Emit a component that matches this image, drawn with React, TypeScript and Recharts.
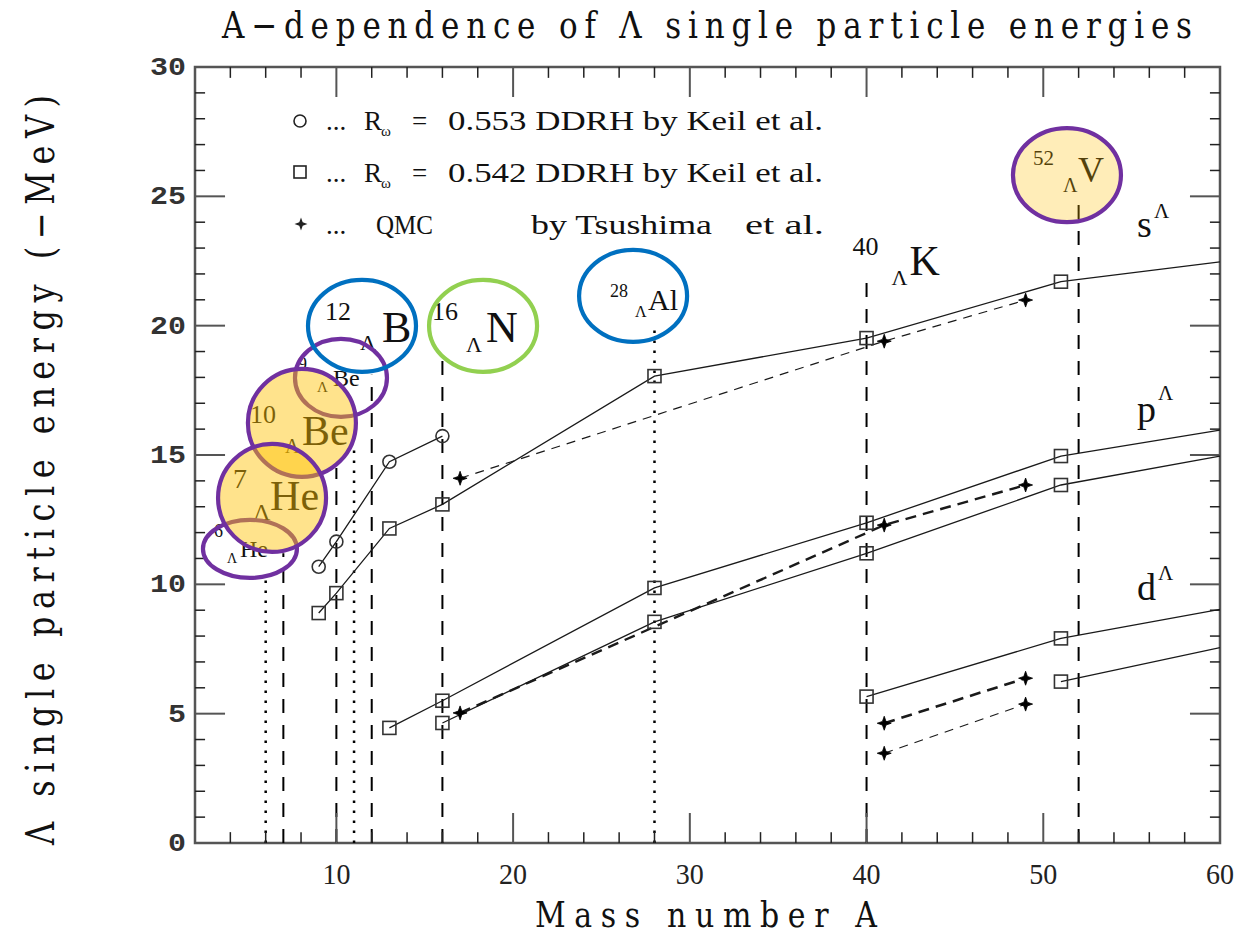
import React from 'react';
import {
  ComposedChart,
  Line,
  XAxis,
  YAxis,
  ReferenceLine,
  ReferenceArea,
  ReferenceDot,
  Customized,
} from 'recharts';

// ---------------- data ----------------
// DDRH, R_omega = 0.553 (circles) : s states
const ddrh553S = [
  { A: 9, E: 10.68 },
  { A: 10, E: 11.65 },
  { A: 13, E: 14.74 },
  { A: 16, E: 15.73 },
];
// DDRH, R_omega = 0.542 (squares)
const ddrh542S = [
  { A: 9, E: 8.89 },
  { A: 10, E: 9.66 },
  { A: 13, E: 12.16 },
  { A: 16, E: 13.09 },
  { A: 28, E: 18.05 },
  { A: 40, E: 19.52 },
  { A: 51, E: 21.7 },
  { A: 60, E: 22.47 },
];
const ddrh542P1 = [
  { A: 13, E: 4.45 },
  { A: 16, E: 5.5 },
  { A: 28, E: 9.86 },
  { A: 40, E: 12.38 },
  { A: 51, E: 14.96 },
  { A: 60, E: 15.96 },
];
const ddrh542P2 = [
  { A: 16, E: 4.64 },
  { A: 28, E: 8.55 },
  { A: 40, E: 11.2 },
  { A: 51, E: 13.84 },
  { A: 60, E: 14.96 },
];
const ddrh542D1 = [
  { A: 40, E: 5.66 },
  { A: 51, E: 7.91 },
  { A: 60, E: 9.03 },
];
const ddrh542D2 = [
  { A: 51, E: 6.24 },
  { A: 60, E: 7.55 },
];
// QMC by Tsushima et al. (stars)
const qmcS = [
  { A: 17, E: 14.1 },
  { A: 41, E: 19.4 },
  { A: 49, E: 20.99 },
];
const qmcP = [
  { A: 17, E: 5.03 },
  { A: 41, E: 12.29 },
  { A: 49, E: 13.84 },
];
const qmcD1 = [
  { A: 41, E: 4.63 },
  { A: 49, E: 6.37 },
];
const qmcD2 = [
  { A: 41, E: 3.47 },
  { A: 49, E: 5.37 },
];

// vertical guide lines at the hypernuclei mass numbers
const dashedNucleiA = [7, 10, 12, 16, 40, 52];
const dashedNucleiTop = [11.2, 14.5, 18.1, 19.05, 22.0, 24.9];
const dottedNucleiA = [6, 11, 28];
const dottedNucleiTop = [10.2, 15.3, 19.9];

// axis ticks
const xTickLabels = [10, 20, 30, 40, 50, 60];
const yTickLabels = [0, 5, 10, 15, 20, 25, 30];
const xMinorTicks = [4, 6, 8, 12, 14, 16, 18, 22, 24, 26, 28, 32, 34, 36, 38, 42, 44, 46, 48, 52, 54, 56, 58];
const xMajorTicks = [10, 20, 30, 40, 50];
const yMinorTicks = [1, 2, 3, 4, 6, 7, 8, 9, 11, 12, 13, 14, 16, 17, 18, 19, 21, 22, 23, 24, 26, 27, 28, 29];
const yMajorTicks = [5, 10, 15, 20, 25];

// hypernucleus labels (anchor in data units)
const hyperMass = ['12', '16', '28', '40', '52', '9', '10', '7', '6'];
const hyperCore = ['B', 'N', 'Al', 'K', 'V', 'Be', 'Be', 'He', 'He'];
const hyperA = [11.45, 18.3, 26.79, 40.0, 51.34, 10.26, 8.05, 6.36, 5.11];
const hyperE = [19.99, 19.99, 21.15, 22.5, 25.82, 17.98, 16.24, 13.34, 11.37];

// orbital labels
const orbitNames = ['s', 'p', 'd'];
const orbitA = [55.3, 55.3, 55.3];
const orbitE = [23.43, 16.28, 9.39];

// ---------------- layout / style (not data) ----------------
const W = 1240;
const H = 938;
const SERIF = "'Liberation Serif', 'Times New Roman', serif";
const TYPE = "'DejaVu Serif', serif";
const MONO = "'Liberation Mono', 'Courier New', monospace";
const PURPLE = '#7030A0';
const BLUE = '#0070C0';
const GREEN = '#92D050';
const ORANGE = '#FFC000';

// offsets [massX, massY, massSize, lamX, lamY, lamSize, coreX, coreY, coreSize]
const hyperLayout = [
  [-37, -6, 26, -2, 24, 22, 20, 16, 44],
  [-51, -6, 26, -17, 26, 22, 3, 16, 44],
  [-23, 1, 18, 2, 21, 16, 15, 14, 30],
  [-14, -6, 26, 25, 24, 22, 43, 14, 42],
  [-34, -10, 21, -4, 17, 20, 11, 7, 36],
  [-43, -8, 18, -24, 14, 15, -8, 8, 24],
  [-52, 0, 26, -17, 30, 20, 0, 22, 42],
  [-39, -10, 28, -19, 22, 24, -2, 12, 42],
  [-36, -12, 18, -23, 14, 14, -10, 8, 24],
];
// ellipses drawn after labels, in this order: index into hyper arrays
const ellipseOrder = [5, 8, 6, 7, 0, 1, 2, 4];
const ellipseStyle: Record<number, { rx: number; ry: number; stroke: string; fill: string; fo: number }> = {
  0: { rx: 54, ry: 46, stroke: BLUE, fill: 'none', fo: 0 },
  1: { rx: 54, ry: 46, stroke: GREEN, fill: 'none', fo: 0 },
  2: { rx: 54, ry: 46, stroke: BLUE, fill: 'none', fo: 0 },
  4: { rx: 54, ry: 47, stroke: PURPLE, fill: ORANGE, fo: 0.28 },
  5: { rx: 46, ry: 39, stroke: PURPLE, fill: 'none', fo: 0 },
  6: { rx: 54, ry: 54, stroke: PURPLE, fill: ORANGE, fo: 0.45 },
  7: { rx: 54, ry: 54, stroke: PURPLE, fill: ORANGE, fo: 0.45 },
  8: { rx: 47, ry: 29, stroke: PURPLE, fill: 'none', fo: 0 },
};
const orbitLayout = [
  [17, -19],
  [21, -22],
  [21, -20],
];

const LINE = '#1a1a1a';

const starPath = (cx: number, cy: number, r = 7, ri = 1.8) =>
  `M${cx},${cy - r} L${cx + ri},${cy - ri} L${cx + r},${cy} L${cx + ri},${cy + ri} L${cx},${cy + r} L${cx - ri},${cy + ri} L${cx - r},${cy} L${cx - ri},${cy - ri} Z`;

const EDGE = 60;

const circleDot = (p: any) => {
  const { cx, cy, payload, index } = p;
  if (payload.A >= EDGE) return <g key={`c${index}`} />;
  return <circle key={`c${index}`} cx={cx} cy={cy} r={6.5} fill="none" stroke="#333" strokeWidth={1.6} />;
};
const squareDot = (p: any) => {
  const { cx, cy, payload, index } = p;
  if (payload.A >= EDGE) return <g key={`s${index}`} />;
  return <rect key={`s${index}`} x={cx - 6.5} y={cy - 6.5} width={13} height={13} fill="none" stroke="#333" strokeWidth={1.6} />;
};
const starDot = (p: any) => {
  const { cx, cy, index } = p;
  return <path key={`t${index}`} d={starPath(cx, cy)} fill="#000" stroke="#000" strokeWidth={0.8} />;
};

const XTick = (p: any) => {
  const { x, y, payload } = p;
  return (
    <text x={x} y={y + 33} textAnchor="middle" fontFamily={SERIF} fontSize={30} fill="#222" textLength={28} lengthAdjust="spacingAndGlyphs">
      {payload.value}
    </text>
  );
};
const YTick = (p: any) => {
  const { x, y, payload } = p;
  const s = String(payload.value);
  return (
    <text x={x - 1} y={y + 8} textAnchor="end" fontFamily={MONO} fontWeight="bold" fontSize={26} fill="#333" textLength={s.length * 18} lengthAdjust="spacingAndGlyphs">
      {s}
    </text>
  );
};

const IsoLabel = (p: any) => {
  const { cx, cy, i } = p;
  const L = hyperLayout[i];
  return (
    <g fontFamily={SERIF} fill="#111">
      <text x={cx + L[0]} y={cy + L[1]} fontSize={L[2]}>{hyperMass[i]}</text>
      <text x={cx + L[3]} y={cy + L[4]} fontSize={L[5]}>Λ</text>
      <text x={cx + L[6]} y={cy + L[7]} fontSize={L[8]}>{hyperCore[i]}</text>
    </g>
  );
};

const IsoEllipse = (p: any) => {
  const { cx, cy, i } = p;
  const s = ellipseStyle[i];
  return (
    <ellipse cx={cx} cy={cy} rx={s.rx} ry={s.ry} stroke={s.stroke} strokeWidth={4.2} fill={s.fill} fillOpacity={s.fo} />
  );
};

const OrbitLabel = (p: any) => {
  const { cx, cy, i } = p;
  const L = orbitLayout[i];
  return (
    <g fontFamily={SERIF} fill="#111">
      <text x={cx} y={cy} fontSize={38}>{orbitNames[i]}</text>
      <text x={cx + L[0]} y={cy + L[1]} fontSize={21}>Λ</text>
    </g>
  );
};

const Decorations = () => (
  <g>
    {/* title */}
    <text transform="translate(222,38) scale(1,1.2)" fontFamily={TYPE} fontSize={31} fill="#111" textLength={970} lengthAdjust="spacing">
      A−dependence of Λ single particle energies
    </text>
    {/* x title */}
    <text transform="translate(706,927) scale(1,1.2)" textAnchor="middle" fontFamily={TYPE} fontSize={30} fill="#111" textLength={342} lengthAdjust="spacing">
      Mass number A
    </text>
    {/* y title */}
    <text
      transform="translate(54,470) rotate(-90) scale(1,1.2)"
      textAnchor="middle"
      fontFamily={TYPE}
      fontSize={32}
      fill="#111"
      textLength={750}
      lengthAdjust="spacing"
    >
      Λ single particle energy (−MeV)
    </text>
    {/* legend */}
    <g fontFamily={SERIF} fill="#111" fontSize={27}>
      <circle cx={300} cy={121} r={6} fill="none" stroke="#222" strokeWidth={1.6} />
      <text x={326} y={130}>...</text>
      <text x={364} y={130}>R</text>
      <text x={381} y={136} fontSize={15}>ω</text>
      <text x={412} y={130}>=</text>
      <text x={448} y={130} textLength={375} lengthAdjust="spacingAndGlyphs">0.553 DDRH by Keil et al.</text>

      <rect x={294} y={166} width={12} height={12} fill="none" stroke="#222" strokeWidth={1.6} />
      <text x={326} y={182}>...</text>
      <text x={364} y={182}>R</text>
      <text x={381} y={188} fontSize={15}>ω</text>
      <text x={412} y={182}>=</text>
      <text x={448} y={182} textLength={375} lengthAdjust="spacingAndGlyphs">0.542 DDRH by Keil et al.</text>

      <path d={starPath(301, 224, 6.5, 1.7)} fill="#222" />
      <text x={326} y={234}>...</text>
      <text x={376} y={234} textLength={57} lengthAdjust="spacingAndGlyphs">QMC</text>
      <text x={531} y={234} textLength={181} lengthAdjust="spacingAndGlyphs">by Tsushima</text>
      <text x={745} y={234} textLength={79} lengthAdjust="spacingAndGlyphs">et al.</text>
    </g>
  </g>
);

export default function App() {
  return (
    <div style={{ position: 'absolute', left: 0, top: 0, width: W, height: H, background: '#fff' }}>
      <ComposedChart width={W} height={H} margin={{ top: 67, right: 20, bottom: 0, left: 0 }}>
        <XAxis
          dataKey="A"
          type="number"
          domain={[2, 60]}
          ticks={xTickLabels}
          allowDataOverflow
          tickLine={false}
          axisLine={false}
          height={95}
          tick={<XTick />}
          interval={0}
        />
        <YAxis
          type="number"
          domain={[0, 30]}
          ticks={yTickLabels}
          allowDataOverflow
          tickLine={false}
          axisLine={false}
          width={195}
          tick={<YTick />}
          interval={0}
        />

        {/* hypernucleus labels (under the ellipses) */}
        {hyperA.map((a, i) => (
          <ReferenceDot key={`hl${i}`} x={a} y={hyperE[i]} r={0} shape={(p: any) => <IsoLabel {...p} i={i} />} />
        ))}
        {orbitA.map((a, i) => (
          <ReferenceDot key={`ol${i}`} x={a} y={orbitE[i]} r={0} shape={(p: any) => <OrbitLabel {...p} i={i} />} />
        ))}

        {/* vertical guide lines */}
        {dashedNucleiA.map((a, i) => (
          <ReferenceLine
            key={`dn${i}`}
            segment={[{ x: a, y: 0 }, { x: a, y: dashedNucleiTop[i] }]}
            stroke="#000"
            strokeWidth={2}
            strokeDasharray="14 12"
          />
        ))}
        {dottedNucleiA.map((a, i) => (
          <ReferenceLine
            key={`dt${i}`}
            segment={[{ x: a, y: 0 }, { x: a, y: dottedNucleiTop[i] }]}
            stroke="#000"
            strokeWidth={2.5}
            strokeDasharray="2.5 7.5"
          />
        ))}

        {/* ticks, inward */}
        {xMinorTicks.map((t) => (
          <ReferenceLine key={`xb${t}`} segment={[{ x: t, y: 0 }, { x: t, y: 0.42 }]} stroke="#222" strokeWidth={1.5} />
        ))}
        {xMinorTicks.map((t) => (
          <ReferenceLine key={`xt${t}`} segment={[{ x: t, y: 30 }, { x: t, y: 29.58 }]} stroke="#222" strokeWidth={1.5} />
        ))}
        {xMajorTicks.map((t) => (
          <ReferenceLine key={`xB${t}`} segment={[{ x: t, y: 0 }, { x: t, y: 1.16 }]} stroke="#555" strokeWidth={2} />
        ))}
        {xMajorTicks.map((t) => (
          <ReferenceLine key={`xT${t}`} segment={[{ x: t, y: 30 }, { x: t, y: 28.84 }]} stroke="#555" strokeWidth={2} />
        ))}
        {yMinorTicks.map((t) => (
          <ReferenceLine key={`yl${t}`} segment={[{ x: 2, y: t }, { x: 2.57, y: t }]} stroke="#222" strokeWidth={1.5} />
        ))}
        {yMinorTicks.map((t) => (
          <ReferenceLine key={`yr${t}`} segment={[{ x: 60, y: t }, { x: 59.43, y: t }]} stroke="#222" strokeWidth={1.5} />
        ))}
        {yMajorTicks.map((t) => (
          <ReferenceLine key={`yL${t}`} segment={[{ x: 2, y: t }, { x: 3.7, y: t }]} stroke="#555" strokeWidth={2} />
        ))}
        {yMajorTicks.map((t) => (
          <ReferenceLine key={`yR${t}`} segment={[{ x: 60, y: t }, { x: 58.3, y: t }]} stroke="#555" strokeWidth={2} />
        ))}

        {/* series */}
        <Line data={ddrh553S} dataKey="E" type="linear" stroke={LINE} strokeWidth={1.3} dot={circleDot} activeDot={false} isAnimationActive={false} />
        <Line data={ddrh542S} dataKey="E" type="linear" stroke={LINE} strokeWidth={1.3} dot={squareDot} activeDot={false} isAnimationActive={false} />
        <Line data={ddrh542P1} dataKey="E" type="linear" stroke={LINE} strokeWidth={1.3} dot={squareDot} activeDot={false} isAnimationActive={false} />
        <Line data={ddrh542P2} dataKey="E" type="linear" stroke={LINE} strokeWidth={1.3} dot={squareDot} activeDot={false} isAnimationActive={false} />
        <Line data={ddrh542D1} dataKey="E" type="linear" stroke={LINE} strokeWidth={1.3} dot={squareDot} activeDot={false} isAnimationActive={false} />
        <Line data={ddrh542D2} dataKey="E" type="linear" stroke={LINE} strokeWidth={1.3} dot={squareDot} activeDot={false} isAnimationActive={false} />
        <Line data={qmcS} dataKey="E" type="linear" stroke={LINE} strokeWidth={1.2} strokeDasharray="9 7" dot={starDot} activeDot={false} isAnimationActive={false} />
        <Line data={qmcP} dataKey="E" type="linear" stroke={LINE} strokeWidth={2.4} strokeDasharray="11 7" dot={starDot} activeDot={false} isAnimationActive={false} />
        <Line data={qmcD1} dataKey="E" type="linear" stroke={LINE} strokeWidth={2.6} strokeDasharray="11 7" dot={starDot} activeDot={false} isAnimationActive={false} />
        <Line data={qmcD2} dataKey="E" type="linear" stroke={LINE} strokeWidth={1.2} strokeDasharray="9 7" dot={starDot} activeDot={false} isAnimationActive={false} />

        {/* ellipse highlights */}
        {ellipseOrder.map((i) => (
          <ReferenceDot key={`he${i}`} x={hyperA[i]} y={hyperE[i]} r={0} shape={(p: any) => <IsoEllipse {...p} i={i} />} />
        ))}

        {/* frame */}
        <ReferenceArea x1={2} x2={60} y1={0} y2={30} fill="#fff" fillOpacity={0} stroke="#555" strokeWidth={2.5} />

        <Customized component={Decorations} />
      </ComposedChart>
    </div>
  );
}
